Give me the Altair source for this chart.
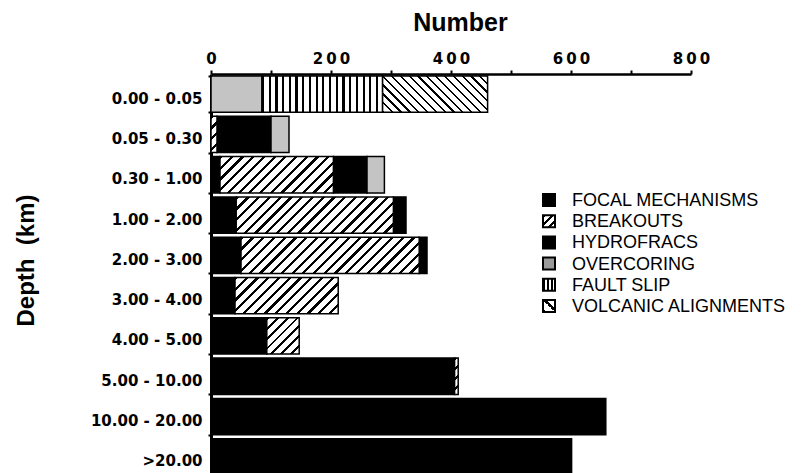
import altair as alt
import pandas as pd

# ---------------- data ----------------
depth_labels = ["0.00 - 0.05", "0.05 - 0.30", "0.30 - 1.00", "1.00 - 2.00",
                "2.00 - 3.00", "3.00 - 4.00", "4.00 - 5.00", "5.00 - 10.00",
                "10.00 - 20.00", ">20.00"]
categories = ["FOCAL MECHANISMS", "BREAKOUTS", "HYDROFRACS", "OVERCORING",
              "FAULT SLIP", "VOLCANIC ALIGNMENTS"]
focal_mechanisms    = [0, 0, 15, 42, 50, 40, 93, 406, 658, 601]
breakouts           = [0, 10, 189, 262, 297, 172, 54, 6, 0, 0]
hydrofracs          = [0, 90, 56, 21, 13, 0, 0, 0, 0, 0]
overcoring          = [85, 30, 29, 0, 0, 0, 0, 0, 0, 0]
fault_slip          = [201, 0, 0, 0, 0, 0, 0, 0, 0, 0]
volcanic_alignments = [175, 0, 0, 0, 0, 0, 0, 0, 0, 0]
x_tick_values = [0, 100, 200, 300, 400, 500, 600, 700, 800]
x_tick_labels = ["0", "200", "400", "600", "800"]

series = [focal_mechanisms, breakouts, hydrofracs, overcoring, fault_slip,
          volcanic_alignments]

# ---------------- layout / style ----------------
W_PLOT, H_PLOT = 480, 403
X_MAX = 800
PAD_IN, PAD_OUT = 0.1, 0.05
STEP = H_PLOT / (len(depth_labels) - PAD_IN + 2 * PAD_OUT)
BAR_H = STEP * (1 - PAD_IN)
FONT = "Liberation Sans"
LABEL_FONT = "DejaVu Sans"

# stacked segments
rows = []
seg = 0
for r, lab in enumerate(depth_labels):
    start = 0
    for c, cat in enumerate(categories):
        v = series[c][r]
        if v > 0:
            rows.append({"seg": seg, "depth": lab, "cat": cat,
                         "start": start, "end": start + v, "value": v})
            seg += 1
        start += v
df = pd.DataFrame(rows)


def stripes(n, frac, c_line="black", c_bg="white"):
    stops = []
    for i in range(n):
        a, b, e = i / n, (i + frac) / n, (i + 1) / n
        stops += [{"offset": a, "color": c_line}, {"offset": b, "color": c_line},
                  {"offset": b, "color": c_bg}, {"offset": e, "color": c_bg}]
    return stops


def hatch(w, h, pitch, frac, kind):
    w = max(w, 1.0)
    if kind == "|":
        n = max(1, round(w / pitch))
        return {"gradient": "linear", "x1": 0, "y1": 0, "x2": 1, "y2": 0,
                "stops": stripes(n, frac)}
    k = (w + h) / (w * w + h * h)
    n = max(1, round((w + h) / pitch))
    if kind == "/":
        return {"gradient": "linear", "x1": 0, "y1": 0, "x2": k * w, "y2": k * h,
                "stops": stripes(n, frac)}
    return {"gradient": "linear", "x1": 0, "y1": 1, "x2": k * w, "y2": 1 - k * h,
            "stops": stripes(n, frac)}


pattern = {"BREAKOUTS": ("/", 10.5, 0.3),
           "FAULT SLIP": ("|", 6.7, 0.32),
           "VOLCANIC ALIGNMENTS": ("\\", 9.0, 0.25)}

label_expr = " : ".join(
    f"datum.value == {t} ? '" + "\u2009".join(t) + "'" for t in x_tick_labels
) + " : ''"

x_axis = alt.Axis(orient="top", values=x_tick_values, labelExpr=label_expr,
                  labelFont=LABEL_FONT, labelFontWeight="bold", labelFontSize=15,
                  labelColor="black", labelFlush=False, labelOverlap=False,
                  labelBaseline="alphabetic", labelPadding=7,
                  tickSize=4, tickWidth=2, tickColor="black",
                  domainWidth=2.5, domainColor="black", grid=False,
                  title="Number", titleFont=FONT, titleFontSize=25,
                  titleFontWeight="bold", titleColor="black",
                  titleX=249, titleY=-44, titleBaseline="alphabetic",
                  titleAlign="center")
y_axis = alt.Axis(labelFont=LABEL_FONT, labelFontWeight="bold", labelFontSize=15,
                  labelColor="black", labelPadding=6, labelOffset=4,
                  tickBand="extent", tickSize=3, tickWidth=2, tickColor="black",
                  domainWidth=3, domainColor="black", grid=False,
                  title="Depth\u00a0 (km)", titleFont=FONT, titleFontSize=24,
                  titleFontWeight="bold", titleColor="black", titleAngle=270,
                  titleX=-178, titleY=186, titleBaseline="alphabetic",
                  titleAlign="center")

y_enc = alt.Y("depth:N", sort=depth_labels,
              scale=alt.Scale(paddingInner=PAD_IN, paddingOuter=PAD_OUT),
              axis=y_axis)
x_enc = alt.X("start:Q", scale=alt.Scale(domain=[0, X_MAX], nice=False),
              axis=x_axis)

base = alt.Chart(df).encode(y=y_enc, x=x_enc, x2="end:Q")

layers = [
    base.transform_filter(
        alt.FieldOneOfPredicate(field="cat", oneOf=["FOCAL MECHANISMS", "HYDROFRACS"])
    ).mark_bar(fill="black", stroke="black", strokeWidth=1.5),
    base.transform_filter(alt.datum.cat == "OVERCORING").mark_bar(
        fill="#c4c4c4", stroke="black", strokeWidth=1.5),
]
for _, rw in df.iterrows():
    if rw["cat"] in pattern:
        kind, pitch, frac = pattern[rw["cat"]]
        wpx = rw["value"] * W_PLOT / X_MAX
        layers.append(
            base.transform_filter(alt.datum.seg == int(rw["seg"])).mark_bar(
                fill=hatch(wpx, BAR_H, pitch, frac, kind),
                stroke="black", strokeWidth=1.5)
        )

# ---------------- legend (hand-built, patterned swatches) ----------------
LEG_X, LEG_Y0, LEG_DY, SW = 332, 126, 21.2, 12
legend_fill = {
    "FOCAL MECHANISMS": "black",
    "BREAKOUTS": hatch(SW, SW, 9, 0.45, "/"),
    "HYDROFRACS": "black",
    "OVERCORING": "#9a9a9a",
    "FAULT SLIP": hatch(SW, SW, 4.5, 0.5, "|"),
    "VOLCANIC ALIGNMENTS": hatch(SW, SW, 12, 0.3, "\\"),
}
for i, cat in enumerate(categories):
    cy = LEG_Y0 + i * LEG_DY
    ldf = pd.DataFrame({"label": [cat]})
    layers.append(alt.Chart(ldf).mark_rect(
        fill=legend_fill[cat], stroke="black", strokeWidth=2).encode(
        x=alt.value(LEG_X), x2=alt.value(LEG_X + SW),
        y=alt.value(cy - SW / 2), y2=alt.value(cy + SW / 2)))
    layers.append(alt.Chart(ldf).mark_text(
        align="left", baseline="middle", font=FONT, fontSize=18,
        fontWeight=500, color="black").encode(
        x=alt.value(LEG_X + 29), y=alt.value(cy + 1), text="label:N"))

chart = alt.layer(*layers).properties(
    width=W_PLOT, height=H_PLOT,
    autosize=alt.AutoSizeParams(type="none"),
    padding={"left": 203, "top": 66, "right": 106, "bottom": 0},
    background="white",
).configure_view(stroke=None)

chart.save("out.html", embed_options={"renderer": "svg", "actions": False})
